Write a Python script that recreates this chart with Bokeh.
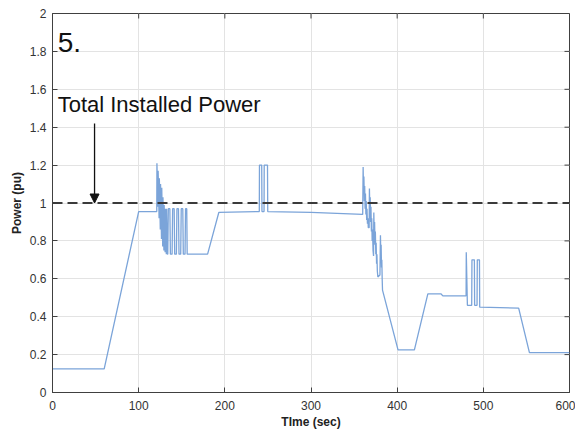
from bokeh.plotting import figure
from bokeh.models import (ColumnDataSource, FixedTicker, Range1d, Arrow,
                          NormalHead, Label, Span)
from bokeh.embed import file_html
from bokeh.resources import INLINE

# ---------------- data ----------------
time_s = [0, 60, 100, 121,
          121.2, 122.3, 122.6, 123.7, 124.0, 125.1, 125.4, 126.5, 126.8, 127.9,
          128.2, 129.3, 129.6, 130.7, 131.0, 132.1, 132.4, 133.3,
          133.8, 134.4, 136.2, 136.8, 138.8, 139.4, 141.2, 141.8, 143.8, 144.4,
          146.2, 146.8, 148.8, 149.4, 151.2, 151.8, 153.8, 154.4, 155.8, 156.3,
          180, 193, 240,
          240.2, 242.8, 243.1, 245.5, 245.7, 249.5, 249.8,
          250, 300, 360,
          360.5, 361.0, 361.4, 361.9, 362.3, 362.8, 363.2, 363.7, 364.1, 364.6,
          365.0, 365.5, 366.0, 366.5, 367.5,
          367.8, 368.3, 368.7, 369.2, 369.6, 370.1, 370.5, 371.0, 371.4, 372.0, 372.6,
          372.9, 373.4, 373.8, 374.3, 374.7, 375.2, 375.6, 376.1, 376.5, 377.0, 377.6,
          380.0, 380.6, 381.0, 381.4, 381.8, 382.2, 382.6, 383.0,
          401, 420, 435.6, 451, 453, 480,
          480.2, 481.5, 486.5, 486.8, 489.6, 489.9, 492.7, 493.0, 495.5, 495.8,
          541, 553.5, 600]
power_pu = [0.125, 0.125, 0.955, 0.955,
            1.21, 0.98, 1.17, 0.92, 1.13, 0.86, 1.10, 0.81, 1.08, 0.77,
            1.03, 0.75, 0.99, 0.74, 0.97, 0.73, 0.97, 0.73,
            0.73, 0.97, 0.97, 0.73, 0.73, 0.97, 0.97, 0.73, 0.73, 0.97,
            0.97, 0.73, 0.73, 0.97, 0.97, 0.73, 0.73, 0.97, 0.97, 0.73,
            0.73, 0.95, 0.955,
            1.20, 1.20, 0.955, 0.955, 1.20, 1.20, 0.955,
            0.955, 0.95, 0.94,
            1.19, 1.06, 1.14, 1.01, 1.09, 0.97, 1.05, 0.94, 1.01, 0.91,
            0.97, 0.89, 0.92, 0.87, 0.87,
            1.076, 0.95, 1.03, 0.90, 0.98, 0.85, 0.92, 0.80, 0.86, 0.75, 0.72,
            0.95, 0.83, 0.90, 0.78, 0.85, 0.73, 0.79, 0.68, 0.73, 0.64, 0.61,
            0.62, 0.83, 0.72, 0.78, 0.66, 0.70, 0.60, 0.54,
            0.225, 0.225, 0.52, 0.52, 0.51, 0.51,
            0.74, 0.46, 0.46, 0.70, 0.70, 0.46, 0.46, 0.70, 0.70, 0.45,
            0.445, 0.21, 0.21]

installed_power = 1.0
x_ticks = [0, 100, 200, 300, 400, 500, 600]
x_tick_labels = ["0", "100", "200", "300", "400", "500", "600"]
y_ticks = [0, 0.2, 0.4, 0.6, 0.8, 1, 1.2, 1.4, 1.6, 1.8, 2]
y_tick_labels = ["0", "0.2", "0.4", "0.6", "0.8", "1", "1.2", "1.4", "1.6", "1.8", "2"]

# ---------------- figure ----------------
FONT = "Liberation Sans"
W, H = 575, 433
BL, BR, BT, BB = 52, 6, 13, 41
X0, X1, Y0, Y1 = 0, 600, 0, 2
p = figure(width=W, height=H, output_backend="svg", toolbar_location=None,
           x_range=Range1d(X0, X1), y_range=Range1d(Y0, Y1),
           min_border_left=BL, min_border_right=BR, min_border_top=BT, min_border_bottom=BB)
p.background_fill_color = "white"
p.border_fill_color = "white"
p.outline_line_color = "#404040"
p.outline_line_width = 1

src = ColumnDataSource(dict(t=time_s, pw=power_pu))
p.line("t", "pw", source=src, line_color="#7ba4d9", line_width=1.3)

p.add_layout(Span(location=installed_power, dimension="width", line_color="#3a3a3a",
                  line_width=2, line_dash="10 5"))

# axes
for ax in (p.xaxis[0], p.yaxis[0]):
    ax.major_label_text_font = FONT
    ax.major_label_text_font_size = "12px"
    ax.major_label_text_color = "#333333"
    ax.axis_label_text_font = FONT
    ax.axis_label_text_font_size = "12px"
    ax.axis_label_text_font_style = "bold"
    ax.axis_label_text_color = "#222222"
    ax.axis_line_color = "#404040"
    ax.major_tick_line_color = "#404040"
    ax.minor_tick_line_color = None
    ax.major_tick_in = 5
    ax.major_tick_out = 0

p.xaxis[0].ticker = FixedTicker(ticks=x_ticks)
p.xaxis[0].major_label_overrides = {float(k): v for k, v in zip(x_ticks, x_tick_labels)}
p.xaxis[0].axis_label = "TIme (sec)"
p.xaxis[0].major_label_standoff = 8
p.xaxis[0].axis_label_standoff = 2

p.yaxis[0].ticker = FixedTicker(ticks=y_ticks)
p.yaxis[0].major_label_overrides = {float(k): v for k, v in zip(y_ticks, y_tick_labels)}
p.yaxis[0].axis_label = "Power (pu)"
p.yaxis[0].major_label_standoff = 6
p.yaxis[0].axis_label_standoff = 3

# inward tick marks on the top and right edges of the box (from the tick lists)
fw, fh = W - BL - BR, H - BT - BB
tick_dx = 5 * (X1 - X0) / fw
tick_dy = 5 * (Y1 - Y0) / fh
p.segment(x0=x_ticks, y0=[Y1] * len(x_ticks), x1=x_ticks, y1=[Y1 - tick_dy] * len(x_ticks),
          line_color="#404040", line_width=1)
p.segment(x0=[X1] * len(y_ticks), y0=y_ticks, x1=[X1 - tick_dx] * len(y_ticks), y1=y_ticks,
          line_color="#404040", line_width=1)

p.xgrid.ticker = FixedTicker(ticks=x_ticks)
p.ygrid.ticker = FixedTicker(ticks=y_ticks)
p.xgrid.grid_line_color = "#e3e3e3"
p.ygrid.grid_line_color = "#e3e3e3"

# annotations
p.add_layout(Label(x=6, y=1.847, text="5.", text_font=FONT, text_font_size="28px",
                   text_baseline="middle", text_color="#111111"))
p.add_layout(Label(x=6, y=1.52, text="Total Installed Power", text_font=FONT,
                   text_font_size="22px", text_baseline="middle", text_color="#111111"))
p.add_layout(Arrow(x_start=48.8, y_start=1.42, x_end=48.8, y_end=1.0,
                   line_color="#111111", line_width=1.3,
                   end=NormalHead(size=9, fill_color="#111111", line_color="#111111")))

open("out.html", "w").write(file_html(p, INLINE))
